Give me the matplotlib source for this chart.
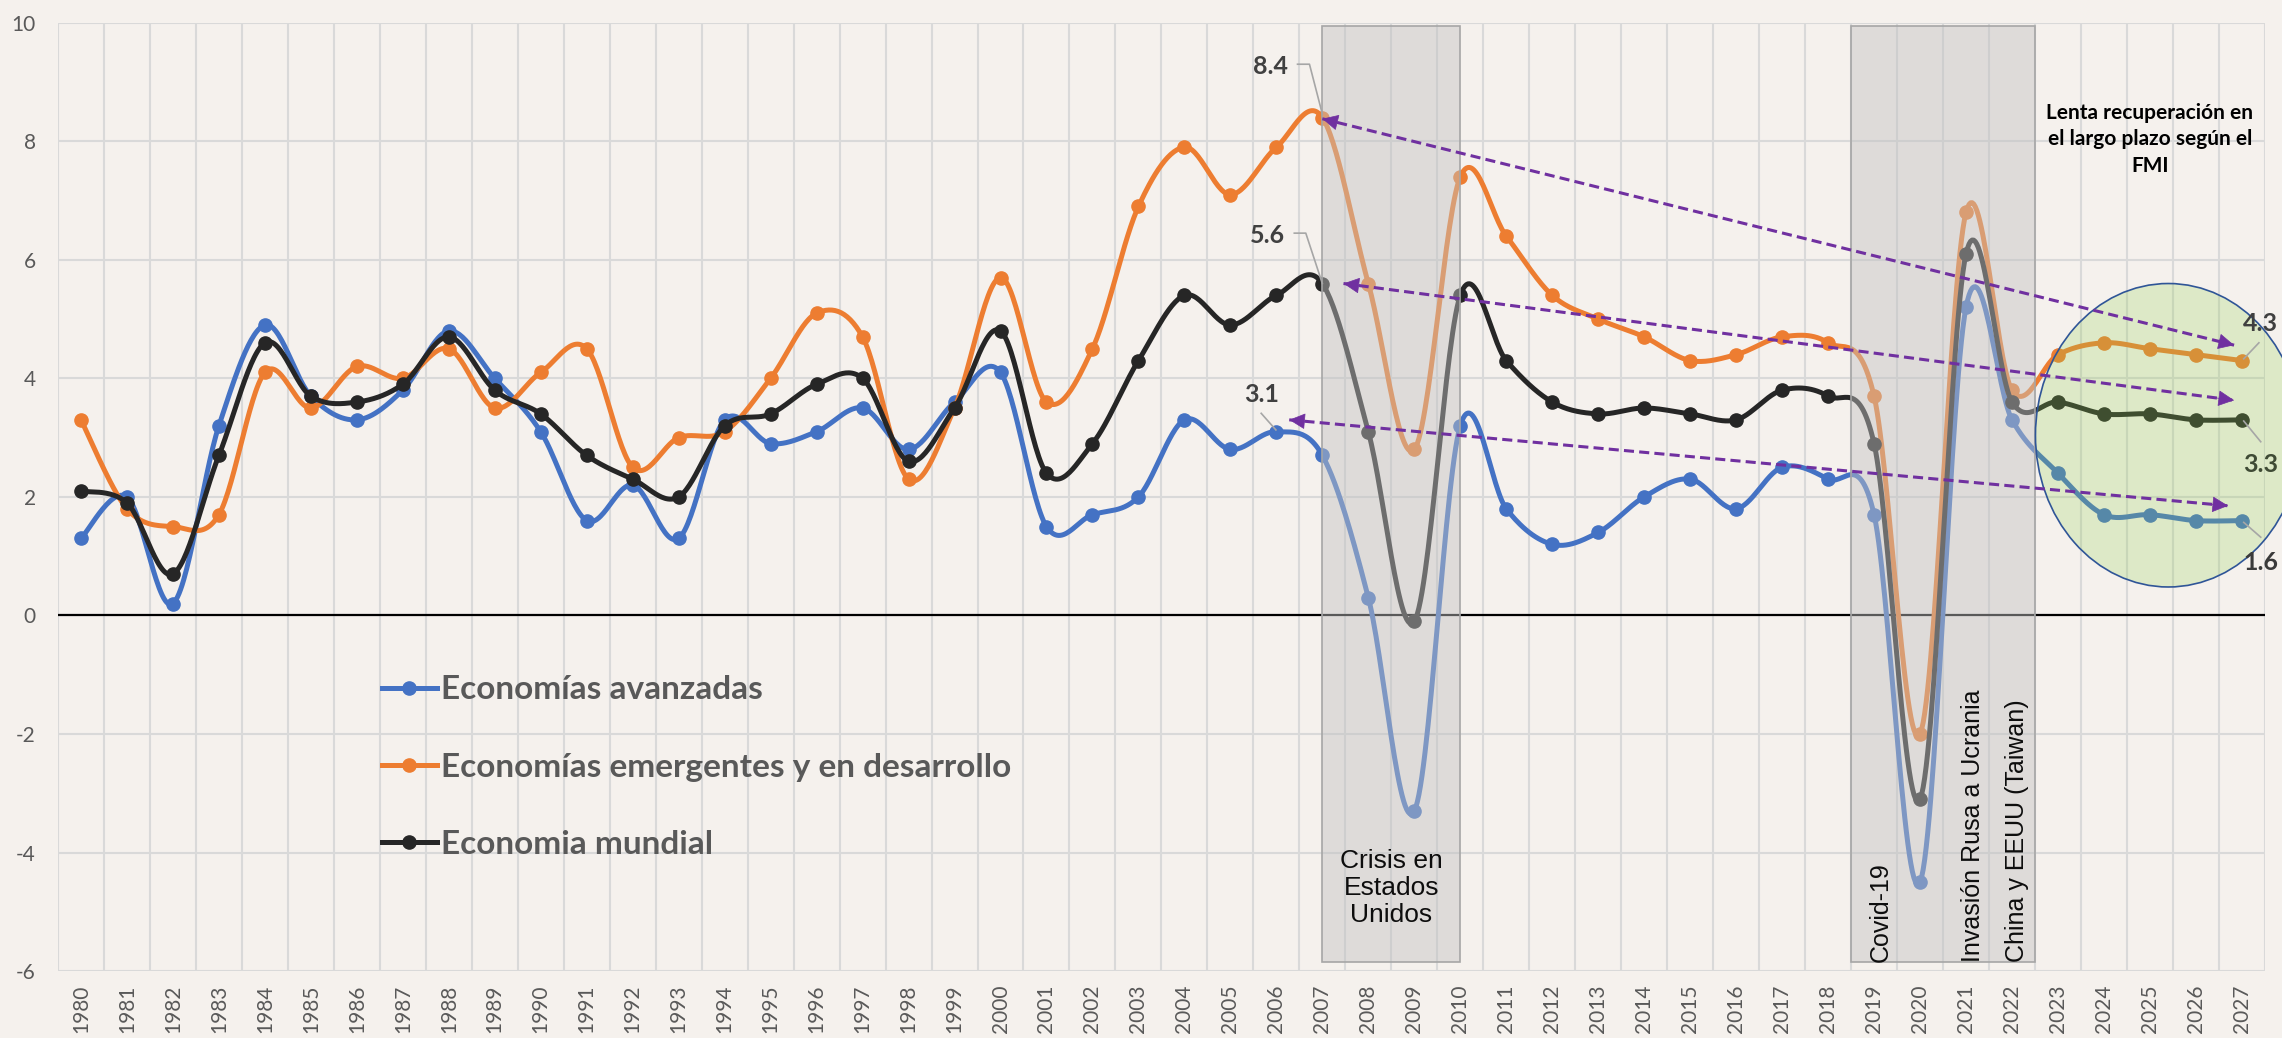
import numpy as np
import matplotlib.pyplot as plt
from matplotlib.patches import Rectangle, Ellipse
from matplotlib.lines import Line2D

years = list(range(1980, 2028))
avanzadas = [1.3, 2.0, 0.2, 3.2, 4.9, 3.7, 3.3, 3.8, 4.8, 4.0,
             3.1, 1.6, 2.2, 1.3, 3.3, 2.9, 3.1, 3.5, 2.8, 3.6,
             4.1, 1.5, 1.7, 2.0, 3.3, 2.8, 3.1, 2.7, 0.3, -3.3,
             3.2, 1.8, 1.2, 1.4, 2.0, 2.3, 1.8, 2.5, 2.3, 1.7,
             -4.5, 5.2, 3.3, 2.4, 1.7, 1.7, 1.6, 1.6]
emergentes = [3.3, 1.8, 1.5, 1.7, 4.1, 3.5, 4.2, 4.0, 4.5, 3.5,
              4.1, 4.5, 2.5, 3.0, 3.1, 4.0, 5.1, 4.7, 2.3, 3.5,
              5.7, 3.6, 4.5, 6.9, 7.9, 7.1, 7.9, 8.4, 5.6, 2.8,
              7.4, 6.4, 5.4, 5.0, 4.7, 4.3, 4.4, 4.7, 4.6, 3.7,
              -2.0, 6.8, 3.8, 4.4, 4.6, 4.5, 4.4, 4.3]
mundial = [2.1, 1.9, 0.7, 2.7, 4.6, 3.7, 3.6, 3.9, 4.7, 3.8,
           3.4, 2.7, 2.3, 2.0, 3.2, 3.4, 3.9, 4.0, 2.6, 3.5,
           4.8, 2.4, 2.9, 4.3, 5.4, 4.9, 5.4, 5.6, 3.1, -0.1,
           5.4, 4.3, 3.6, 3.4, 3.5, 3.4, 3.3, 3.8, 3.7, 2.9,
           -3.1, 6.1, 3.6, 3.6, 3.4, 3.4, 3.3, 3.3]
series_names = ["Economías avanzadas", "Economías emergentes y en desarrollo", "Economia mundial"]
series_colors = ["#4472C4", "#ED7D31", "#262626"]

# events shaded (start, end) in years
crisis_span = (2007, 2010)
covid_span = (2018.5, 2022.5)

BG = "#F5F1ED"
GRID = "#D9D9D9"
PURPLE = "#7030A0"
CAL = ["Lato", "DejaVu Sans"]
ARIAL = ["Liberation Sans", "DejaVu Sans"]


def smooth(x, y, n=30):
    # Excel-like smoothed line (Catmull-Rom as cubic Bezier)
    x = np.asarray(x, float)
    y = np.asarray(y, float)
    px = np.concatenate([[x[0]], x, [x[-1]]])
    py = np.concatenate([[y[0]], y, [y[-1]]])
    t = np.linspace(0, 1, n, endpoint=False)[:, None]
    out = []
    for i in range(len(x) - 1):
        p0 = np.array([px[i], py[i]])
        p1 = np.array([px[i + 1], py[i + 1]])
        p2 = np.array([px[i + 2], py[i + 2]])
        p3 = np.array([px[i + 3], py[i + 3]])
        b1 = p1 + (p2 - p0) / 6
        b2 = p2 - (p3 - p1) / 6
        seg = ((1 - t) ** 3) * p1 + 3 * ((1 - t) ** 2) * t * b1 + 3 * (1 - t) * t ** 2 * b2 + t ** 3 * p2
        out.append(seg)
    out.append(np.array([[x[-1], y[-1]]]))
    out = np.vstack(out)
    return out[:, 0], out[:, 1]


fig = plt.figure(figsize=(22.82, 10.38), dpi=100, facecolor=BG)
ax = fig.add_axes([0.0254, 0.0645, 0.9671, 0.9136])
ax.set_facecolor(BG)
ax.set_xlim(1979.5, 2027.5)
ax.set_ylim(-6, 10)

for s in ax.spines.values():
    s.set_visible(False)

ax.set_xticks(years)
ax.set_xticklabels([str(y) for y in years], rotation=90, fontsize=15,
                   color="#595959", family=CAL)
ax.set_xticks(np.arange(1979.5, 2028, 1), minor=True)
ax.set_yticks(np.arange(-6, 11, 2))
ax.set_yticklabels([str(v) for v in range(-6, 11, 2)], fontsize=15,
                   color="#595959", family=CAL)
ax.tick_params(axis="both", which="both", length=0)
ax.tick_params(axis="x", pad=10)
ax.tick_params(axis="y", pad=16)
ax.grid(which="minor", axis="x", color=GRID, lw=1.5, zorder=0)
ax.grid(which="major", axis="y", color=GRID, lw=1.5, zorder=0)
ax.set_axisbelow(True)
ax.axhline(0, color="black", lw=1.6, zorder=1)

for vals, col, z in zip([avanzadas, emergentes, mundial], series_colors, [2, 3, 4]):
    sx, sy = smooth(years, vals)
    ax.plot(sx, sy, color=col, lw=3.6, zorder=z, solid_capstyle="round")
    ax.plot(years, vals, "o", color=col, ms=9.5, zorder=z)

# shaded event boxes
for a, b in [crisis_span, covid_span]:
    ax.add_patch(Rectangle((a, -5.85), b - a, 15.8,
                           facecolor=(0.765, 0.765, 0.765, 0.46),
                           edgecolor="#A6A6A6", lw=1.2, zorder=5))

# green ellipse for the forecast (runs past the plot edge)
ax.add_patch(Ellipse((2025.4, 3.04), 5.78, 5.12,
                     facecolor=(146 / 255, 208 / 255, 80 / 255, 0.24),
                     edgecolor="#2F5597", lw=1.2, zorder=5, clip_on=False))

# dashed purple double arrows
arrows = [((2007.0, 8.38), (2026.83, 4.56)),
          ((2007.46, 5.6), (2026.83, 3.63)),
          ((2006.28, 3.3), (2026.7, 1.85))]
for p, q in arrows:
    ax.plot([p[0], q[0]], [p[1], q[1]], color=PURPLE, lw=2.2,
            dashes=(3.3, 1.7), zorder=7)
    for tip, tail in [(p, q), (q, p)]:
        d = np.array(tail) - np.array(tip)
        back = np.array(tip) + d * 0.02
        ax.annotate("", xy=tip, xytext=back,
                    arrowprops=dict(arrowstyle="-|>", color=PURPLE, lw=0.5,
                                    mutation_scale=26, shrinkA=0, shrinkB=0),
                    zorder=7)

# data labels with leaders
lab_kw = dict(fontsize=18, fontweight="bold", color="#404040", family=CAL,
              ha="center", va="center", zorder=8)
lead = dict(color="#A6A6A6", lw=1.2, zorder=8, clip_on=False)
ax.text(2005.88, 9.26, "8.4", **lab_kw)
ax.plot([2006.46, 2006.72, 2007], [9.3, 9.3, 8.46], **lead)
ax.text(2005.81, 6.41, "5.6", **lab_kw)
ax.plot([2006.39, 2006.64, 2007], [6.45, 6.45, 5.6], **lead)
ax.text(2005.67, 3.72, "3.1", **lab_kw)
ax.plot([2005.67, 2005.99], [3.41, 3.13], **lead)

ax.text(2027.41, 4.93, "4.3", clip_on=False, **lab_kw)
ax.plot([2027.04, 2027.37], [4.33, 4.6], **lead)
ax.text(2027.41, 2.54, "3.3", clip_on=False, **dict(lab_kw, color="#3F4B35"))
ax.plot([2027.04, 2027.41], [3.28, 2.93], **lead)
ax.text(2027.41, 0.9, "1.6", clip_on=False, **dict(lab_kw, color="#3A3A3A"))
ax.plot([2027.04, 2027.41], [1.57, 1.32], **lead)

# event texts
ax.text(2008.5, -4.6, "Crisis en\nEstados\nUnidos", fontsize=19, family=ARIAL,
        ha="center", va="center", color="#0D0D0D", linespacing=1.15, zorder=8)
for xv, txt in [(2019.15, "Covid-19"), (2021.15, "Invasión Rusa a Ucrania"),
                (2022.1, "China y EEUU (Taiwan)")]:
    ax.text(xv, -5.85, txt, rotation=90, fontsize=18, family=ARIAL,
            ha="center", va="bottom", color="#0D0D0D", zorder=8)

ax.text(2025.0, 8.03, "Lenta recuperación en\nel largo plazo según el\nFMI",
        fontsize=15, fontweight="bold", family=CAL, ha="center", va="center",
        color="black", linespacing=1.4, zorder=8)

handles = [Line2D([], [], color=c, lw=3.6, marker="o", ms=9.5) for c in series_colors]
leg = fig.legend(handles, series_names, loc="center left",
                 bbox_to_anchor=(0.160, 0.261), frameon=False,
                 prop=dict(family=CAL, size=24, weight="bold"),
                 labelspacing=1.45, handlelength=1.65, handletextpad=0.12,
                 borderpad=0)
for t in leg.get_texts():
    t.set_color("#595959")

fig.savefig("out.png", dpi=100, facecolor=BG)
